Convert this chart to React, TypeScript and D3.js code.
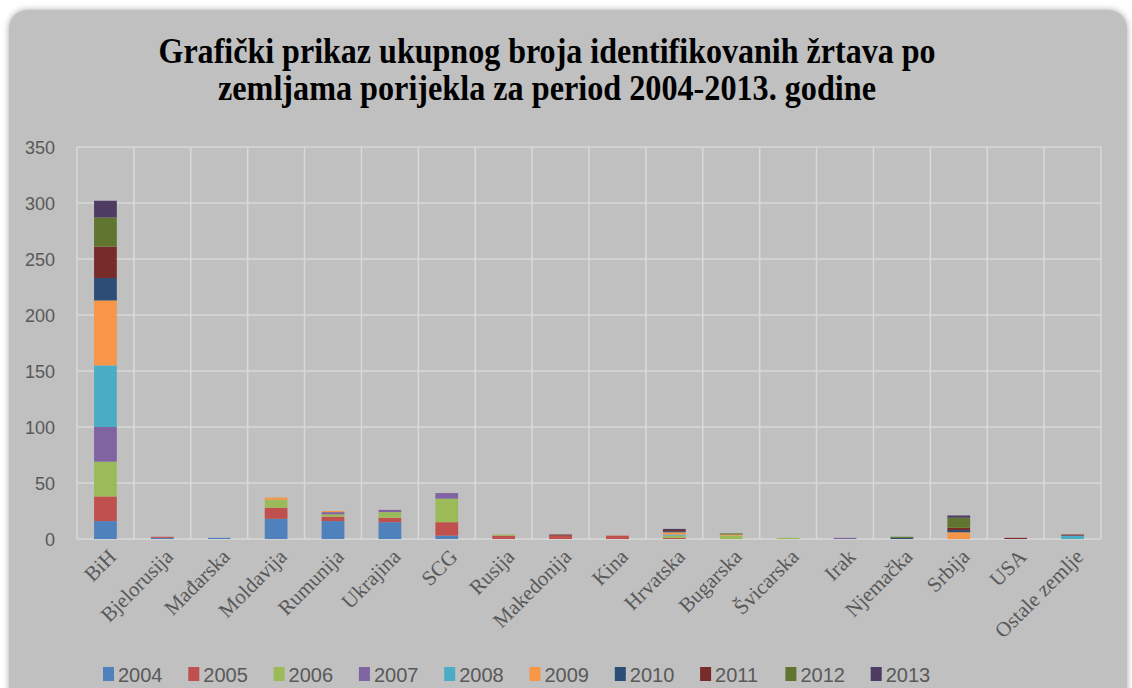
import React, { useRef, useEffect } from 'react';
import * as d3 from 'd3';

// categories (countries of origin)
const countries = [
  "BiH", "Bjelorusija", "Mađarska", "Moldavija", "Rumunija", "Ukrajina", "SCG",
  "Rusija", "Makedonija", "Kina", "Hrvatska", "Bugarska", "Švicarska", "Irak",
  "Njemačka", "Srbija", "USA", "Ostale zemlje"
];

const years = ["2004", "2005", "2006", "2007", "2008", "2009", "2010", "2011", "2012", "2013"];

// one array per year, in the order of countries
const v2004 = [16, 1, 1, 18, 16, 15, 3, 0, 0, 0, 0, 0, 0, 0, 0, 0, 0, 0];
const v2005 = [22, 1, 0, 10, 4, 4, 12, 3, 3, 3, 1, 0, 0, 0, 0, 0, 0, 0];
const v2006 = [31, 0, 0, 7, 2, 5, 21, 1, 0, 0, 2, 3, 1, 0, 0, 0, 0, 0];
const v2007 = [31, 0, 0, 0, 2, 2, 5, 0, 0, 0, 0, 0, 0, 1, 0, 0, 0, 0];
const v2008 = [55, 0, 0, 0, 0, 0, 0, 0, 0, 0, 1, 0, 0, 0, 0, 0, 0, 3];
const v2009 = [58, 0, 0, 2, 1, 0, 0, 0, 0, 0, 2, 1, 0, 0, 0, 6, 0, 0];
const v2010 = [20, 0, 0, 0, 0, 0, 0, 0, 0, 0, 1, 0, 0, 0, 1, 2, 0, 0];
const v2011 = [28, 0, 0, 0, 0, 0, 0, 0, 1, 0, 1, 0, 0, 0, 0, 2, 1, 1];
const v2012 = [26, 0, 0, 0, 0, 0, 0, 0, 0, 0, 0, 1, 0, 0, 1, 9, 0, 0];
const v2013 = [15, 0, 0, 0, 0, 0, 0, 0, 0, 0, 1, 0, 0, 0, 0, 2, 0, 0];

const yTicks = [0, 50, 100, 150, 200, 250, 300, 350];

const colors = ["#4f81bd", "#c0504d", "#9bbb59", "#8064a2", "#4bacc6", "#f79646", "#2c4d75", "#772c2a", "#5f7530", "#4d3b62"];

const titleLines = [
  "Grafički prikaz ukupnog broja identifikovanih žrtava po",
  "zemljama porijekla za period 2004-2013. godine"
];

const App = () => {
  const svgRef = useRef(null);

  useEffect(() => {
    const svg = d3.select(svgRef.current);
    svg.selectAll("*").remove();

    const W = 1132, H = 688;
    const plot = { left: 77, right: 1101, top: 147, bottom: 539 };

    svg.attr("width", W).attr("height", H);

    // rounded panel with soft shadow
    const defs = svg.append("defs");
    const f = defs.append("filter").attr("id", "shadow").attr("x", "-5%").attr("y", "-5%").attr("width", "110%").attr("height", "110%");
    f.append("feDropShadow").attr("dx", 0).attr("dy", 0).attr("stdDeviation", 3).attr("flood-color", "#000").attr("flood-opacity", 0.35);

    svg.append("rect").attr("width", W).attr("height", H).attr("fill", "#fff");
    svg.append("rect")
      .attr("x", 9).attr("y", 10)
      .attr("width", 1118).attr("height", 700)
      .attr("rx", 18)
      .attr("fill", "#c0c0c0")
      .attr("filter", "url(#shadow)");

    // title
    svg.selectAll("text.title")
      .data(titleLines)
      .enter()
      .append("text")
      .attr("class", "title")
      .attr("x", 547)
      .attr("y", (d, i) => 63 + i * 37)
      .attr("text-anchor", "middle")
      .attr("textLength", (d, i) => (i === 0 ? 777 : 658))
      .attr("lengthAdjust", "spacingAndGlyphs")
      .style("font-family", "'Liberation Serif', 'Times New Roman', serif")
      .style("font-weight", "bold")
      .style("font-size", "35px")
      .style("fill", "#000")
      .text(d => d);

    // stack data
    const series = [v2004, v2005, v2006, v2007, v2008, v2009, v2010, v2011, v2012, v2013];
    const rows = countries.map((c, i) => {
      const row: any = { country: c };
      years.forEach((y, k) => { row[y] = series[k][i]; });
      return row;
    });
    const stacked = d3.stack().keys(years)(rows);

    const x = d3.scaleBand().domain(countries).range([plot.left, plot.right]).paddingInner(0).paddingOuter(0);
    const y = d3.scaleLinear().domain([0, 350]).range([plot.bottom, plot.top]);

    // grid
    const grid = svg.append("g");
    grid.selectAll("line.h")
      .data(yTicks)
      .enter()
      .append("line")
      .attr("x1", plot.left).attr("x2", plot.right)
      .attr("y1", d => y(d)).attr("y2", d => y(d))
      .attr("stroke", "#d9d9d9").attr("stroke-width", 1.5);
    grid.selectAll("line.v")
      .data(countries)
      .enter()
      .append("line")
      .attr("x1", d => x(d)!).attr("x2", d => x(d)!)
      .attr("y1", plot.top).attr("y2", plot.bottom)
      .attr("stroke", "#d9d9d9").attr("stroke-width", 1.5);
    grid.append("line")
      .attr("x1", plot.right).attr("x2", plot.right)
      .attr("y1", plot.top).attr("y2", plot.bottom)
      .attr("stroke", "#d9d9d9").attr("stroke-width", 1.5);

    // bars
    const barW = x.bandwidth() * 0.4;
    svg.append("g")
      .selectAll("g")
      .data(stacked)
      .enter()
      .append("g")
      .attr("fill", (d, i) => colors[i])
      .selectAll("rect")
      .data(d => d)
      .enter()
      .append("rect")
      .attr("x", d => x(d.data.country)! + (x.bandwidth() - barW) / 2)
      .attr("width", barW)
      .attr("y", d => y(d[1]))
      .attr("height", d => y(d[0]) - y(d[1]));

    // y axis labels
    svg.append("g")
      .selectAll("text")
      .data(yTicks)
      .enter()
      .append("text")
      .attr("x", 55)
      .attr("y", d => y(d) + 7)
      .attr("text-anchor", "end")
      .style("font-family", "'Liberation Sans', Arial, sans-serif")
      .style("font-size", "18px")
      .style("fill", "#595959")
      .text(d => d);

    // x axis labels, rotated
    svg.append("g")
      .selectAll("text")
      .data(countries)
      .enter()
      .append("text")
      .attr("transform", d => `translate(${x(d)! + x.bandwidth() / 2 + 12},${558}) rotate(-45)`)
      .attr("text-anchor", "end")
      .style("font-family", "'Liberation Serif', 'Times New Roman', serif")
      .style("font-size", "21px")
      .style("fill", "#595959")
      .text(d => d);

    // legend
    const legend = svg.append("g")
      .selectAll("g")
      .data(years)
      .enter()
      .append("g")
      .attr("transform", (d, i) => `translate(${103 + i * 85.3},0)`);
    legend.append("rect")
      .attr("x", 0).attr("y", 667)
      .attr("width", 11).attr("height", 14)
      .attr("fill", (d, i) => colors[i]);
    legend.append("text")
      .attr("x", 15).attr("y", 682)
      .style("font-family", "'Liberation Sans', Arial, sans-serif")
      .style("font-size", "20px")
      .style("fill", "#595959")
      .text(d => d);
  }, []);

  return (
    <div style={{ position: 'absolute', left: 0, top: 0, width: 1132, height: 688, overflow: 'hidden' }}>
      <svg ref={svgRef} style={{ display: 'block' }}></svg>
    </div>
  );
};

export default App;
